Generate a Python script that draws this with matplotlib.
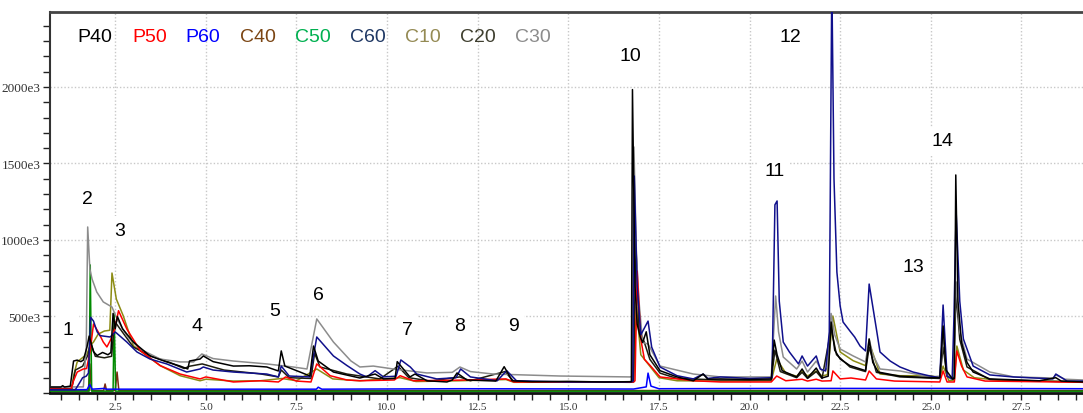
import matplotlib
matplotlib.use('Agg')
import matplotlib.pyplot as plt
from matplotlib.ticker import MultipleLocator, FuncFormatter

# retention time (min), intensity (x1e3)
p40 = [(0.70, 39), (1.00, 39), (1.05, 48), (1.10, 39), (1.26, 45), (1.35, 209), (1.45, 215), (1.55, 205),
       (1.62, 215), (1.72, 300), (1.78, 372), (1.90, 270), (2.00, 245), (2.15, 265), (2.30, 250), (2.38, 265),
       (2.44, 520), (2.50, 420), (2.56, 500), (2.70, 420), (3.00, 333), (3.46, 242), (3.92, 203), (4.29, 176),
       (4.50, 157), (4.55, 209), (4.84, 222), (4.93, 242), (5.20, 205), (5.76, 176), (6.20, 178), (6.68, 170),
       (7.00, 144), (7.08, 275), (7.18, 176), (7.60, 137), (7.87, 111), (7.97, 307), (8.10, 209), (8.52, 137),
       (9.25, 98), (9.67, 124), (9.90, 92), (10.22, 95), (10.28, 205), (10.63, 105), (10.77, 124), (11.10, 80),
       (11.65, 72), (11.80, 85), (11.93, 131), (12.20, 85), (13.00, 78), (13.23, 172), (13.45, 80), (14.00, 74),
       (15.00, 76), (16.00, 72), (16.74, 74), (16.77, 1983), (16.84, 700), (16.90, 450), (16.98, 370),
       (17.05, 330), (17.15, 400), (17.25, 250), (17.53, 146), (18.00, 105), (18.45, 80), (18.72, 124),
       (18.85, 90), (19.20, 92), (20.00, 88), (20.60, 92), (20.68, 346), (20.76, 250), (20.90, 146),
       (21.30, 105), (21.45, 157), (21.60, 98), (21.84, 163), (22.00, 98), (22.17, 110), (22.25, 464),
       (22.35, 280), (22.50, 222), (22.77, 179), (23.20, 146), (23.30, 353), (23.40, 200), (23.55, 137),
       (24.15, 110), (24.98, 100), (25.25, 100), (25.34, 438), (25.42, 150), (25.60, 92), (25.65, 95),
       (25.69, 1425), (25.75, 600), (25.85, 330), (26.00, 200), (26.17, 137), (26.63, 92), (28.00, 80),
       (28.45, 100), (28.60, 78), (29.20, 72)]

p50 = [(0.70, 26), (1.28, 26), (1.35, 80), (1.45, 137), (1.62, 157), (1.71, 160), (1.81, 277), (1.90, 451),
       (2.03, 399), (2.17, 333), (2.27, 301), (2.36, 342), (2.49, 418), (2.59, 538), (2.82, 418), (3.19, 277),
       (3.74, 179), (4.29, 124), (4.84, 92), (5.00, 105), (5.76, 72), (6.50, 80), (7.00, 72), (7.20, 105),
       (7.50, 78), (7.90, 72), (8.06, 190), (8.43, 113), (8.89, 85), (9.25, 80), (10.20, 85), (10.36, 113),
       (10.73, 80), (12.00, 84), (13.28, 92), (13.50, 72), (16.80, 72), (16.84, 80), (16.90, 797),
       (17.00, 350), (17.10, 220), (17.26, 179), (17.53, 105), (18.45, 80), (19.20, 72), (20.60, 72),
       (20.75, 111), (21.00, 80), (21.45, 90), (21.60, 78), (21.84, 90), (22.00, 78), (22.25, 80),
       (22.30, 144), (22.50, 92), (22.80, 98), (23.20, 85), (23.30, 144), (23.50, 92), (24.00, 78),
       (25.25, 72), (25.34, 144), (25.45, 72), (25.65, 72), (25.72, 275), (25.85, 176), (26.00, 105),
       (26.50, 78), (29.20, 70)]

p60 = [(0.70, 22), (1.72, 22), (1.80, 55), (1.86, 25), (2.20, 30), (2.25, 25), (5.00, 25), (8.05, 25),
       (8.10, 38), (8.20, 25), (12.00, 28), (16.80, 26), (17.15, 40), (17.20, 130), (17.28, 45),
       (17.50, 28), (21.00, 30), (25.30, 30), (29.20, 28)]

c40 = [(0.70, 16), (1.76, 16), (1.80, 190), (1.84, 16), (2.18, 16), (2.22, 59), (2.26, 16), (2.50, 16),
       (2.55, 137), (2.60, 16), (29.20, 16)]

c50 = [(0.70, 12), (1.78, 12), (1.81, 837), (1.85, 12), (2.44, 12), (2.47, 520), (2.51, 12), (29.20, 12)]

c60 = [(0.70, 22), (1.40, 22), (1.50, 60), (1.60, 100), (1.70, 110), (1.76, 130), (1.82, 495), (1.90, 470),
       (2.00, 400), (2.08, 375), (2.36, 366), (2.50, 399), (2.82, 333), (3.10, 268), (3.46, 222), (3.92, 190),
       (4.47, 137), (4.84, 157), (4.93, 170), (5.20, 150), (5.76, 137), (6.68, 124), (7.00, 105), (7.08, 176),
       (7.30, 111), (7.87, 105), (8.06, 366), (8.52, 242), (8.89, 180), (9.25, 124), (9.44, 105), (9.67, 146),
       (9.90, 105), (10.25, 110), (10.38, 216), (10.64, 170), (10.82, 124), (11.37, 92), (11.90, 100),
       (12.03, 157), (12.30, 105), (13.04, 80), (13.30, 146), (13.57, 80), (15.00, 72), (16.60, 72),
       (16.78, 75), (16.82, 1418), (16.90, 700), (17.00, 380), (17.20, 470), (17.30, 300), (17.53, 170),
       (18.00, 113), (18.45, 92), (18.72, 124), (18.85, 95), (19.20, 105), (20.00, 95), (20.62, 100),
       (20.70, 1230), (20.76, 1255), (20.82, 600), (20.93, 333), (21.10, 268), (21.35, 190), (21.45, 242),
       (21.60, 176), (21.84, 242), (21.95, 157), (22.10, 144), (22.20, 400), (22.27, 2700), (22.33, 1400),
       (22.41, 790), (22.50, 569), (22.58, 464), (22.77, 405), (22.90, 366), (23.05, 307), (23.20, 275),
       (23.30, 712), (23.50, 418), (23.60, 268), (23.88, 209), (24.15, 170), (24.51, 137), (24.98, 111),
       (25.25, 100), (25.34, 575), (25.45, 110), (25.59, 92), (25.64, 500), (25.70, 1183), (25.80, 600),
       (25.90, 353), (26.17, 176), (26.63, 118), (27.27, 105), (28.37, 92), (28.45, 124), (28.76, 78),
       (29.20, 78)]

c10 = [(0.70, 26), (1.30, 26), (1.35, 113), (1.45, 203), (1.62, 235), (1.71, 250), (1.81, 309), (1.90, 333),
       (2.03, 385), (2.20, 405), (2.35, 410), (2.41, 784), (2.53, 614), (2.72, 505), (3.00, 309), (3.37, 244),
       (3.74, 179), (4.29, 113), (4.84, 80), (5.00, 90), (5.76, 78), (6.50, 80), (7.10, 95), (7.50, 80),
       (8.06, 157), (8.50, 92), (9.25, 80), (10.36, 100), (10.80, 75), (12.00, 80), (13.28, 88), (13.50, 70),
       (16.80, 72), (16.88, 562), (17.00, 250), (17.20, 190), (17.50, 100), (18.00, 80), (19.20, 78),
       (20.60, 80), (20.75, 222), (21.00, 130), (21.30, 110), (21.45, 144), (21.60, 111), (21.84, 144),
       (22.00, 111), (22.15, 120), (22.30, 503), (22.50, 268), (22.86, 211), (23.20, 179), (23.30, 330),
       (23.60, 124), (24.15, 113), (24.98, 113), (25.25, 100), (25.34, 176), (25.50, 80), (25.65, 85),
       (25.72, 307), (25.90, 150), (26.20, 100), (27.00, 80), (29.20, 75)]

c20 = [(0.70, 30), (1.30, 30), (1.40, 150), (1.60, 175), (1.75, 250), (1.82, 330), (1.95, 240), (2.20, 230),
       (2.40, 240), (2.48, 470), (2.60, 430), (3.00, 300), (3.50, 240), (4.00, 200), (4.40, 160), (4.55, 175),
       (4.90, 190), (5.50, 150), (6.50, 125), (7.00, 105), (7.08, 150), (7.30, 100), (7.90, 95), (8.00, 260),
       (8.15, 170), (8.89, 124), (9.80, 92), (10.30, 175), (10.60, 100), (11.20, 78), (12.00, 105),
       (12.30, 80), (13.25, 140), (13.50, 75), (16.70, 70), (16.80, 74), (16.86, 1000), (16.95, 420),
       (17.10, 330), (17.25, 220), (17.53, 130), (18.00, 95), (19.20, 85), (20.60, 85), (20.70, 280),
       (20.85, 140), (21.30, 100), (21.45, 135), (21.60, 95), (21.84, 140), (22.00, 95), (22.25, 420),
       (22.40, 250), (22.77, 170), (23.20, 140), (23.30, 300), (23.50, 135), (24.15, 105), (25.25, 95),
       (25.34, 300), (25.45, 110), (25.62, 90), (25.70, 650), (25.80, 350), (26.00, 170), (26.63, 88),
       (29.20, 70)]

c30 = [(0.70, 39), (1.62, 40), (1.70, 300), (1.74, 1085), (1.80, 810), (1.86, 745), (1.99, 660), (2.17, 595),
       (2.41, 562), (2.55, 484), (2.82, 373), (3.18, 288), (3.74, 222), (4.29, 203), (4.66, 203), (4.89, 255),
       (5.20, 225), (5.76, 209), (6.68, 190), (7.41, 170), (7.79, 157), (8.06, 484), (8.52, 333), (9.00, 210),
       (9.25, 170), (9.62, 176), (10.17, 157), (11.10, 131), (11.80, 135), (12.01, 170), (12.30, 140),
       (12.93, 124), (14.77, 111), (16.70, 105), (16.76, 108), (16.81, 1608), (16.88, 900), (16.95, 600),
       (17.05, 330), (17.20, 320), (17.53, 176), (18.45, 124), (19.20, 105), (20.60, 105), (20.72, 634),
       (20.80, 400), (20.93, 235), (21.30, 157), (21.45, 209), (21.60, 137), (21.84, 209), (22.00, 144),
       (22.15, 160), (22.25, 520), (22.35, 380), (22.50, 288), (22.86, 242), (23.20, 203), (23.30, 353),
       (23.40, 250), (23.60, 157), (24.15, 144), (24.98, 105), (25.25, 110), (25.34, 380), (25.45, 120),
       (25.55, 92), (25.62, 110), (25.70, 726), (25.80, 400), (26.00, 222), (26.63, 137), (27.30, 105),
       (28.37, 98), (28.45, 118), (28.70, 90), (29.20, 85)]

names = ['P40', 'P50', 'P60', 'C40', 'C50', 'C60', 'C10', 'C20', 'C30']
name_colors = ['#000000', '#ff0000', '#0000ff', '#7b4513', '#00b050', '#1f3864', '#948a54', '#3f3f2f', '#8c8c8c']

# peak numbers and where they sit (time, intensity e3)
peak_labels = ['1', '2', '3', '4', '5', '6', '7', '8', '9', '10', '11', '12', '13', '14']
peak_pos = [(1.20, 418), (1.72, 1274), (2.63, 1065), (4.76, 444), (6.91, 542), (8.10, 647), (10.55, 418),
            (12.01, 444), (13.48, 444), (16.70, 2203), (20.68, 1451), (21.12, 2333), (24.51, 824), (25.31, 1647)]

fig = plt.figure(figsize=(10.83, 4.14), dpi=100)
ax = fig.add_axes([50 / 1083, 20 / 414, 1 - 50 / 1083, 381 / 414])

# draw order: baselines first, black last so its peaks sit on top
traces = [(c40, '#7a2a10'), (c50, '#008a00'), (p60, '#0000ff'), (c10, '#8c8c14'), (c20, '#1e1e10'),
          (c30, '#8c8c8c'), (p50, '#ff0000'), (c60, '#10108c'), (p40, '#000000')]
for data, col in traces:
    t = [d[0] for d in data]
    v = [d[1] for d in data]
    ax.plot(t, v, color=col, lw=1.1, zorder=3)

ax.set_xlim(0.7, 29.2)
ax.set_ylim(0, 2490)
ax.xaxis.set_major_locator(MultipleLocator(2.5))
ax.xaxis.set_minor_locator(MultipleLocator(0.5))
ax.yaxis.set_major_locator(MultipleLocator(500))
ax.yaxis.set_minor_locator(MultipleLocator(100))
ax.yaxis.set_major_formatter(FuncFormatter(lambda v, p: '' if v == 0 else '%de3' % v))
ax.xaxis.set_major_formatter(FuncFormatter(lambda v, p: '%.1f' % v))
ax.tick_params(which='both', direction='out', length=5, width=1, color='#222222',
               labelcolor='#333333')
ax.tick_params(axis='y', labelsize=9.5, pad=2)
ax.tick_params(axis='x', labelsize=8, pad=1.5)
for lab in ax.get_xticklabels() + ax.get_yticklabels():
    lab.set_family('Liberation Serif')

ax.grid(True, which='major', color='#c8c8c8', ls=(0, (1, 1.5)), lw=1, zorder=0)
ax.spines['right'].set_visible(False)
ax.spines['left'].set_color('#333333')
ax.spines['left'].set_linewidth(1.5)
ax.spines['top'].set_color('#444444')
ax.spines['top'].set_linewidth(2)
ax.spines['bottom'].set_color('#111111')
ax.spines['bottom'].set_linewidth(2)

for lab, (px, py) in zip(peak_labels, peak_pos):
    ax.text(px, py, lab, ha='center', va='center', fontsize=14, family='Liberation Sans', color='black',
            zorder=2.5, bbox=dict(facecolor='white', edgecolor='none', pad=4))

legend_x = [95, 150, 203, 258, 313, 368, 423, 478, 533]
for nm, col, px in zip(names, name_colors, legend_x):
    fig.text(px / 1083, (414 - 38) / 414, nm, ha='center', va='center', fontsize=14,
             family='Liberation Sans', color=col)

fig.savefig('out.png', dpi=100)
